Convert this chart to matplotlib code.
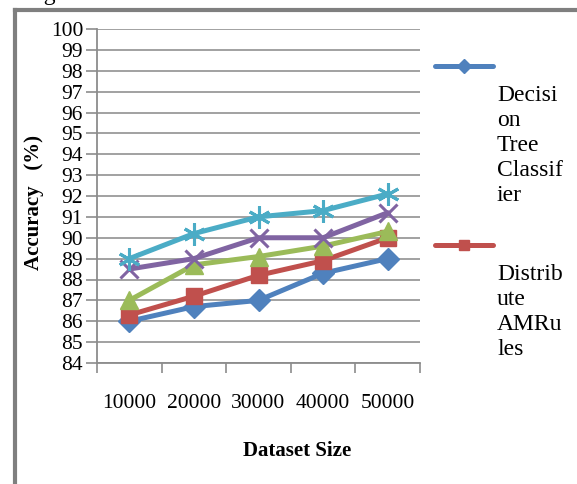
import matplotlib
matplotlib.use('Agg')
import matplotlib.pyplot as plt
from matplotlib.lines import Line2D

plt.rcParams.update({
    'font.family': 'Liberation Serif',
    'font.size': 15.5,
})

sizes = ['10000', '20000', '30000', '40000', '50000']
decision_tree = [86.0, 86.7, 87.0, 88.3, 89.0]
amrules = [86.3, 87.2, 88.2, 88.9, 90.0]
series_3 = [87.0, 88.7, 89.1, 89.6, 90.3]
series_4 = [88.5, 89.0, 90.0, 90.0, 91.2]
series_5 = [89.0, 90.2, 91.0, 91.3, 92.1]
yticks = list(range(84, 101))

styles = [
    (decision_tree, '#4F81BD', 'D', 11, 'full'),
    (amrules,       '#C0504D', 's', 12, 'full'),
    (series_3,      '#9BBB59', '^', 13, 'full'),
    (series_4,      '#8064A2', 'x', 13, 'line'),
    (series_5,      '#4BACC6', (6, 2, 0), 16, 'line'),
]

fig = plt.figure(figsize=(5.77, 4.84), dpi=100)
ax = fig.add_axes([97 / 577, 1 - 363 / 484, 323 / 577, 334 / 484])

x = list(range(1, len(sizes) + 1))
for vals, col, mk, ms, kind in styles:
    if kind == 'full':
        ax.plot(x, vals, color=col, lw=3.6, marker=mk, ms=ms,
                mec=col, mfc=col, solid_capstyle='round', zorder=3)
    else:
        ax.plot(x, vals, color=col, lw=3.6, marker=mk, ms=ms,
                mec=col, mew=2.2, solid_capstyle='round', zorder=3)

ax.set_xlim(0.5, len(sizes) + 0.5)
ax.set_ylim(84, 100)
ax.set_yticks(yticks)
ax.set_xticks(x)
ax.set_xticklabels(sizes)
ax.set_xticks([i + 0.5 for i in range(len(sizes) + 1)], minor=True)
ax.tick_params(axis='x', which='major', length=0, pad=22)
ax.tick_params(axis='x', which='minor', length=7, color='#8c8c8c', width=1.2)
ax.tick_params(axis='y', length=8, color='#8c8c8c', width=1.2, pad=2)
ax.yaxis.grid(True, color='#9a9a9a', lw=1.3)
ax.set_axisbelow(True)
for s in ['top', 'right']:
    ax.spines[s].set_visible(False)
for s in ['left', 'bottom']:
    ax.spines[s].set_color('#8c8c8c')
    ax.spines[s].set_linewidth(1.3)

ax.set_xlabel('Dataset Size', fontweight='bold', fontsize=15)
ax.xaxis.set_label_coords(0.62, -0.235)
ax.set_ylabel('Accuracy   (%)', fontweight='bold', fontsize=15)
ax.yaxis.set_label_coords(-0.165, 0.48)

# legend, drawn by hand like the original (handle above wrapped text)
legend_items = [
    (styles[0], 'Decisi\non\nTree\nClassif\nier', 66),
    (styles[1], 'Distrib\nute\nAMRu\nles', 245),
]
for (vals, col, mk, ms, kind), label, ypix in legend_items:
    yf = 1 - ypix / 484
    fig.add_artist(Line2D([435 / 577, 493 / 577], [yf, yf], color=col, lw=3.6,
                          solid_capstyle='round'))
    fig.add_artist(Line2D([464 / 577], [yf], color=col, marker=mk, ms=ms * 0.65,
                          mec=col, mfc=col))
    fig.text(497 / 577, 1 - (ypix + 19) / 484, label, va='top', ha='left',
             fontsize=17, linespacing=1.25)

# outer frame of the figure
fig.add_artist(Line2D([15 / 577, 15 / 577], [0, 1 - 10 / 484], color='#7f7f7f', lw=3))
fig.add_artist(Line2D([15 / 577, 1], [1 - 10 / 484, 1 - 10 / 484], color='#7f7f7f', lw=3))
fig.text(24 / 577, 1.0, 'Figure', va='baseline', ha='left', fontsize=17)

fig.savefig('out.png', dpi=100)
